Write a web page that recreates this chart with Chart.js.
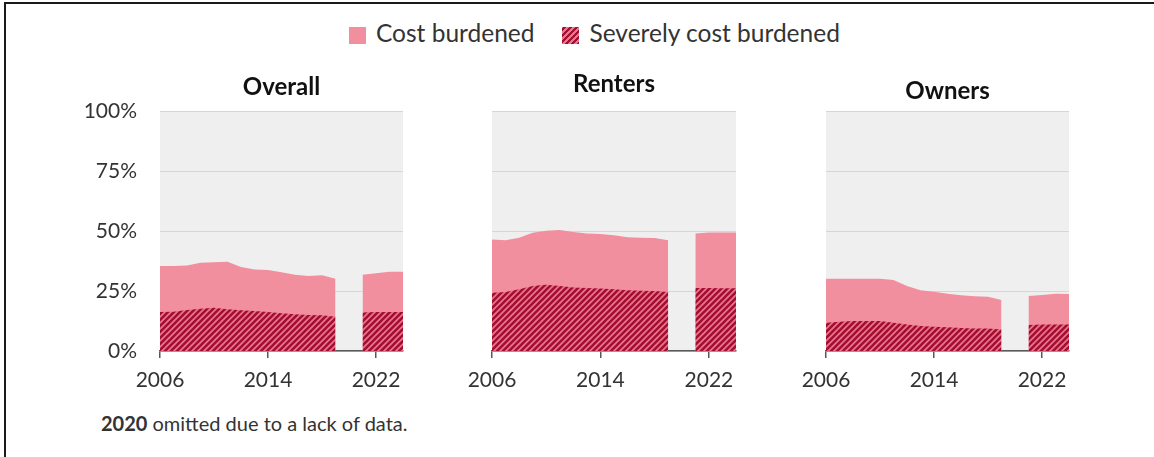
<!DOCTYPE html>
<html>
<head>
<meta charset="utf-8">
<script src="https://cdn.jsdelivr.net/npm/chart.js@4.4.1/dist/chart.umd.min.js"></script>
<style>
  body { margin: 0; background: #fff; font-family: Lato, "Open Sans", sans-serif; }
  #page { position: relative; width: 1154px; height: 457px; overflow: hidden; }
  #frame { position: absolute; left: 4px; top: 2px; width: 1160px; height: 470px;
           border-left: 2px solid #1a1a1a; border-top: 2px solid #1a1a1a; }
  .box { position: absolute; top: 60px; height: 340px; }
  #legend { position: absolute; top: 18px; left: 349px; font-size: 24.5px; color: #333; white-space: nowrap; }
  #legend span.item { display: inline-block; margin-right: 28px; }
  #legend i { display: inline-block; width: 17px; height: 17px; vertical-align: -2px; margin-right: 10px; }
  #note { position: absolute; left: 101px; top: 411px; font-size: 20px; color: #333; }
</style>
</head>
<body>
<div id="page">
  <div id="frame"></div>
  <div id="legend"></div>
  <div class="box" style="left:60px;width:363px"><canvas id="c1"></canvas></div>
  <div class="box" style="left:440px;width:316px"><canvas id="c2"></canvas></div>
  <div class="box" style="left:780px;width:309px"><canvas id="c3"></canvas></div>
  <div id="note"><b>2020</b> omitted due to a lack of data.</div>
</div>
<script>
var years = [2006, 2007, 2008, 2009, 2010, 2011, 2012, 2013, 2014, 2015, 2016, 2017, 2018, 2019, 2020, 2021, 2022, 2023, 2024];

// share of households, percent (2020 has no data)
var overallCost   = [35.4, 35.4, 35.6, 36.8, 37.0, 37.2, 35.0, 34.0, 33.8, 32.8, 31.8, 31.2, 31.6, 30.1, null, 31.8, 32.4, 33.0, 33.0];
var overallSevere = [16.3, 16.4, 17.1, 17.6, 18.0, 17.4, 17.0, 16.7, 16.3, 15.7, 15.3, 15.0, 14.9, 14.3, null, 16.0, 16.3, 16.3, 16.3];
var rentersCost   = [46.5, 46.1, 47.2, 49.3, 50.1, 50.4, 49.6, 49.0, 48.8, 48.2, 47.4, 47.2, 47.1, 46.1, null, 49.0, 49.4, 49.4, 49.4];
var rentersSevere = [24.3, 24.6, 25.7, 27.1, 27.6, 27.1, 26.5, 26.3, 26.0, 25.7, 25.3, 25.1, 25.0, 24.6, null, 26.3, 26.3, 26.1, 26.1];
var ownersCost    = [30.1, 30.1, 30.1, 30.1, 30.1, 29.6, 27.1, 25.3, 24.7, 23.9, 23.2, 22.8, 22.6, 21.3, null, 22.9, 23.3, 23.9, 23.8];
var ownersSevere  = [11.8, 12.2, 12.5, 12.5, 12.5, 11.8, 11.0, 10.4, 10.1, 9.9, 9.6, 9.4, 9.4, 9.0, null, 10.8, 11.0, 11.0, 11.0];

var yTicks = [0, 25, 50, 75, 100];
var xTicks = [2006, 2014, 2022];
var seriesNames = ["Cost burdened", "Severely cost burdened"];

var pink = "#F28F9E";
var darkRed = "#A30E31";
var stripeBase = "#E7788E";

function makeStripes() {
  var c = document.createElement("canvas");
  c.width = 6; c.height = 6;
  var g = c.getContext("2d");
  g.fillStyle = stripeBase;
  g.fillRect(0, 0, 6, 6);
  g.strokeStyle = darkRed;
  g.lineWidth = 2.6;
  g.beginPath();
  g.moveTo(-3, 3); g.lineTo(3, -3);
  g.moveTo(0, 6); g.lineTo(6, 0);
  g.moveTo(3, 9); g.lineTo(9, 3);
  g.stroke();
  return g.createPattern(c, "repeat");
}
var stripes = makeStripes();

// legend
var legend = document.getElementById("legend");
legend.innerHTML =
  '<span class="item"><i style="background:' + pink + '"></i>' + seriesNames[0] + '</span>' +
  '<span class="item"><i style="background:repeating-linear-gradient(-45deg,' + darkRed + ' 0 2px,' + stripeBase + ' 2px 4.2px)"></i>' + seriesNames[1] + '</span>';

var plotBg = {
  id: "plotBg",
  beforeDraw: function(chart) {
    var a = chart.chartArea, ctx = chart.ctx;
    ctx.save();
    ctx.fillStyle = "#EFEFEF";
    ctx.fillRect(a.left, a.top, a.right - a.left, a.bottom - a.top);
    ctx.restore();
  }
};

function panel(id, title, cost, severe, yWidth, showY, titlePad) {
  new Chart(document.getElementById(id), {
    type: "line",
    data: {
      labels: years,
      datasets: [
        { label: seriesNames[1], data: severe, backgroundColor: stripes, fill: "origin",
          borderWidth: 0, pointRadius: 0, tension: 0, spanGaps: false },
        { label: seriesNames[0], data: cost, backgroundColor: pink, fill: "origin",
          borderWidth: 0, pointRadius: 0, tension: 0, spanGaps: false }
      ]
    },
    options: {
      responsive: true,
      maintainAspectRatio: false,
      animation: false,
      layout: { padding: { right: 20, left: 0, bottom: 0 } },
      plugins: {
        legend: { display: false },
        tooltip: { enabled: false },
        title: {
          display: true, text: title, fullSize: false, color: "#111",
          font: { family: "Lato", size: 24, weight: "bold", lineHeight: 1.2 },
          padding: { top: titlePad, bottom: 51 - 28.8 - titlePad }
        }
      },
      scales: {
        x: {
          type: "linear", min: 2006, max: 2024,
          afterFit: function(s) { s.height = 49; },
          afterBuildTicks: function(s) { s.ticks = xTicks.map(function(v) { return { value: v }; }); },
          grid: { drawOnChartArea: false, drawTicks: true, tickLength: 7, color: "#595959", lineWidth: 1.5 },
          border: { display: true, color: "#595959", width: 1.5 },
          ticks: { color: "#333", padding: 10, maxRotation: 0, autoSkip: false,
                   font: { family: "Lato", size: 21 },
                   callback: function(v) { return String(v); } }
        },
        y: {
          min: 0, max: 100,
          afterFit: function(s) { s.width = yWidth; },
          afterBuildTicks: function(s) { s.ticks = yTicks.map(function(v) { return { value: v }; }); },
          grid: { color: "#D6D6D6", lineWidth: 1, drawTicks: false },
          border: { display: false },
          ticks: { display: showY, color: "#333", padding: 23,
                   font: { family: "Lato", size: 21 },
                   callback: function(v) { return v + "%"; } }
        }
      }
    },
    plugins: [plotBg]
  });
}

panel("c1", "Overall", overallCost, overallSevere, 100, true, 12.5);
panel("c2", "Renters", rentersCost, rentersSevere, 52, false, 10);
panel("c3", "Owners", ownersCost, ownersSevere, 46, false, 17);
</script>
</body>
</html>
